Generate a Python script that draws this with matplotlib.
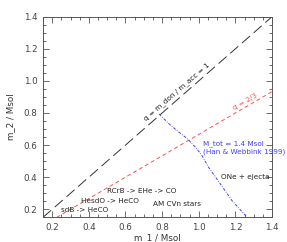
import matplotlib
matplotlib.use("Agg")
import matplotlib.pyplot as plt
import numpy as np

# data
m1_range = [0.15, 1.4]
q_unity = 1.0
q_crit = 2.0 / 3.0
mtot_m1 = [0.783, 0.834, 0.889, 0.935, 0.980, 1.016, 1.052, 1.116, 1.180, 1.262]
mtot_m2 = [0.794, 0.736, 0.683, 0.642, 0.589, 0.538, 0.464, 0.361, 0.256, 0.152]
ticks = [0.2, 0.4, 0.6, 0.8, 1.0, 1.2, 1.4]
tick_labels = ["0.2", "0.4", "0.6", "0.8", "1.0", "1.2", "1.4"]

fig = plt.figure(figsize=(2.87, 2.42), dpi=100)
ax = fig.add_axes([0.150, 0.102, 0.798, 0.829])
ax.set_xlim(0.15, 1.4)
ax.set_ylim(0.15, 1.4)

x = np.array(m1_range)
ax.plot(x, q_unity * x, color="#333333", lw=0.7, dashes=(11, 5))
xr = np.array([0.15 / q_crit, 1.4])
ax.plot(xr, q_crit * xr, color="#ff5050", lw=0.7, dashes=(4, 3))
ax.plot(mtot_m1, mtot_m2, color="#4040ff", lw=0.7, dashes=(3, 1.5, 0.8, 1.5))

tc = "#222222"
fs = 5.2
ax.text(0.879, 0.933, "q = m_don / m_acc = 1", rotation=41, ha="center", va="center", fontsize=fs, color=tc)
ax.text(1.252, 0.872, "q = 2/3", rotation=30, ha="center", va="center", fontsize=fs, color="#ff5050")
ax.text(1.021, 0.609, "M_tot = 1.4 Msol", ha="left", va="center", fontsize=fs, color="#4040ff")
ax.text(1.021, 0.560, "(Han & Webbink 1999)", ha="left", va="center", fontsize=fs, color="#4040ff")
ax.text(1.121, 0.400, "ONe + ejecta", ha="left", va="center", fontsize=fs, color=tc)
ax.text(0.497, 0.312, "RCrB -> EHe -> CO", ha="left", va="center", fontsize=fs, color=tc)
ax.text(0.357, 0.254, "HesdO -> HeCO", ha="left", va="center", fontsize=fs, color=tc)
ax.text(0.246, 0.194, "sdB -> HeCO", ha="left", va="center", fontsize=fs, color=tc)
ax.text(0.752, 0.236, "AM CVn stars", ha="left", va="center", fontsize=fs, color=tc)

ax.set_xticks(ticks)
ax.set_xticklabels(tick_labels)
ax.set_yticks(ticks)
ax.set_yticklabels(tick_labels)
ax.set_xticks(np.arange(0.15, 1.41, 0.05), minor=True)
ax.set_yticks(np.arange(0.15, 1.41, 0.05), minor=True)
ax.tick_params(which="both", direction="in", top=True, right=True, colors="#555555",
               labelcolor="#444444", labelsize=6.3, width=0.6, pad=4)
ax.tick_params(which="major", length=4)
ax.tick_params(which="minor", length=2)
for s in ax.spines.values():
    s.set_color("#555555")
    s.set_linewidth(0.7)
ax.set_xlabel("m_1 / Msol", fontsize=6.3, color="#333333", labelpad=1)
ax.set_ylabel("m_2 / Msol", fontsize=6.3, color="#333333", labelpad=6)

fig.savefig("out.png", dpi=100)
